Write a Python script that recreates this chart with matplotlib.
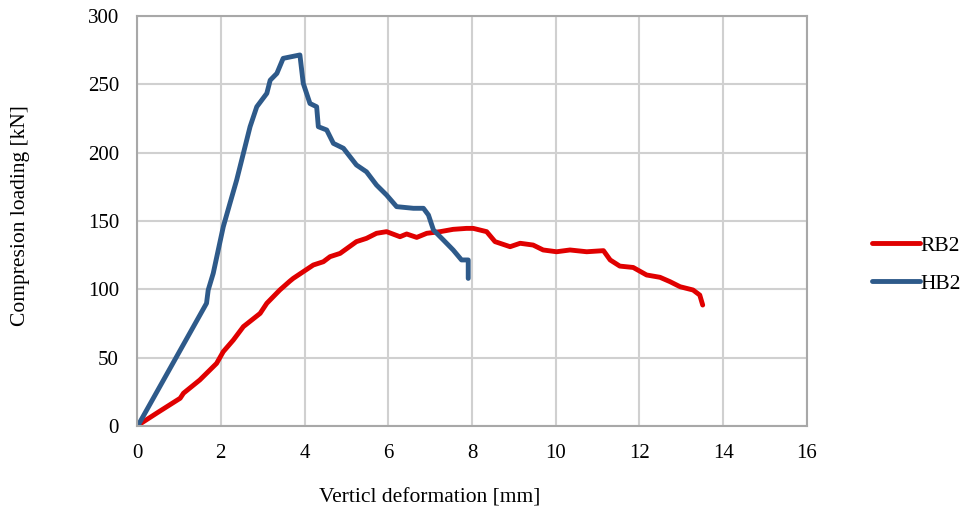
import matplotlib
matplotlib.use("Agg")
import matplotlib.pyplot as plt

rb2_x = [0.03, 0.5, 1.03, 1.11, 1.50, 1.90, 2.06, 2.30, 2.54, 2.94, 3.10, 3.41, 3.65, 3.73, 4.21, 4.45,
         4.61, 4.85, 5.24, 5.48, 5.72, 5.96, 6.28, 6.44, 6.68, 6.92, 7.24, 7.55, 7.87, 8.03, 8.35,
         8.55, 8.91, 9.15, 9.46, 9.70, 10.02, 10.34, 10.74, 11.14, 11.30, 11.53, 11.85, 12.17,
         12.49, 12.73, 12.97, 13.28, 13.44, 13.51]
rb2_y = [0.7, 10, 20.3, 24, 33.7, 45.8, 54.4, 62.9, 72.7, 82.4, 89.8, 99.5, 106, 108, 117.8, 120.2,
         123.9, 126.3, 134.9, 137.3, 141, 142.2, 138.5, 140.5, 138, 141, 142.2, 143.9, 144.6, 144.6, 142.2,
         134.9, 131.2, 133.7, 132.4, 128.8, 127.5, 128.8, 127.5, 128.3, 121.5, 117, 116, 110.5,
         108.8, 105.6, 101.9, 99.5, 95.8, 88.5]

hb2_x = [0.03, 1.66, 1.70, 1.82, 1.94, 2.06, 2.22, 2.38, 2.54, 2.70, 2.86, 3.10, 3.18, 3.34, 3.49,
         3.89, 3.97, 4.13, 4.29, 4.33, 4.53, 4.69, 4.93, 5.24, 5.48, 5.72, 5.96, 6.20, 6.60, 6.84,
         6.96, 7.08, 7.32, 7.55, 7.75, 7.91, 7.91]
hb2_y = [0.7, 89.8, 99.5, 111.7, 128.8, 145.8, 163, 180, 199.5, 219, 233.6, 243.4, 253, 258, 269,
         271.5, 250.7, 236, 233.6, 219, 216.6, 206.8, 203.2, 191, 186, 176.3, 169, 160.5, 159.3, 159.3,
         154.4, 143.4, 136, 128.8, 121.5, 121.5, 108]

x_ticks = [0, 2, 4, 6, 8, 10, 12, 14, 16]
y_ticks = [0, 50, 100, 150, 200, 250, 300]

plt.rcParams['font.family'] = ['Liberation Serif', 'DejaVu Serif']

fig = plt.figure(figsize=(9.67, 5.13), dpi=100)
ax = fig.add_axes([0.1417, 0.1696, 0.6928, 0.7992])

ax.plot(rb2_x, rb2_y, color='#E00000', lw=3.5, label='RB2', solid_joinstyle='round', solid_capstyle='round')
ax.plot(hb2_x, hb2_y, color='#2E5A8A', lw=3.5, label='HB2', solid_joinstyle='round', solid_capstyle='round')

ax.set_xlim(0, 16)
ax.set_ylim(0, 300)
ax.set_xticks(x_ticks)
ax.set_yticks(y_ticks)
ax.grid(True, color='#D0D0D0', lw=1.5)
ax.set_axisbelow(True)
for s in ax.spines.values():
    s.set_color('#A8A8A8')
    s.set_linewidth(1.5)
ax.tick_params(length=0, labelsize=15)
ax.tick_params(axis='x', pad=13)
ax.tick_params(axis='y', pad=13)

fig.text(0.444, 0.03, 'Verticl deformation [mm]', ha='center', va='center', fontsize=15.5)
fig.text(0.021, 0.58, 'Compresion loading [kN]', ha='center', va='center', rotation=90, fontsize=15.5)

handles, labels = ax.get_legend_handles_labels()
fig.legend(handles, labels, loc='center left', bbox_to_anchor=(0.902, 0.484), frameon=False, fontsize=15.5,
           handlelength=2.2, handletextpad=0.05, labelspacing=0.85, borderpad=0, borderaxespad=0)

fig.savefig('out.png', dpi=100)
